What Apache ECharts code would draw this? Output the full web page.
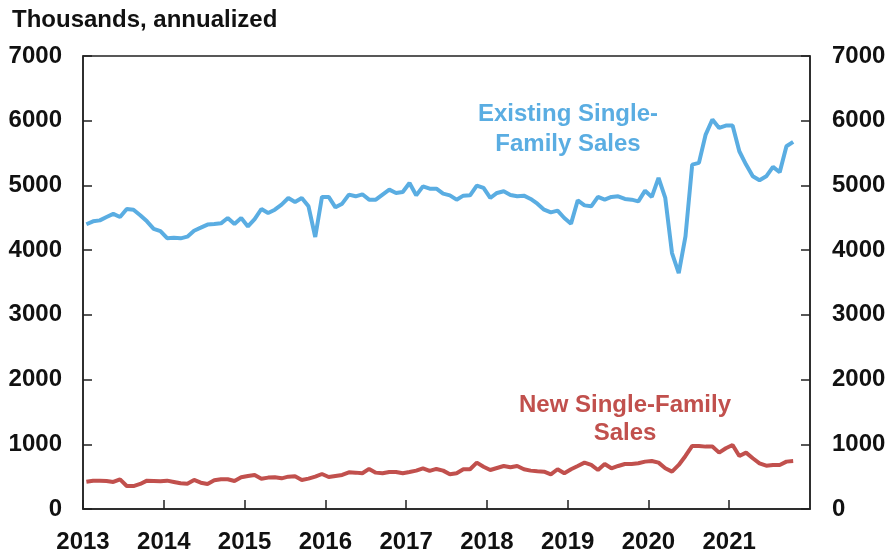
<!DOCTYPE html>
<html>
<head>
<meta charset="utf-8">
<script src="https://cdn.jsdelivr.net/npm/echarts@6/dist/echarts.min.js"></script>
<style>
  html, body { margin: 0; padding: 0; background: #fff; }
  #chart { width: 890px; height: 555px; }
</style>
</head>
<body>
<div id="chart"></div>
<script>
// monthly, Jan 2013 .. Oct 2021
const startYear = 2013;
const yearTicks = [2013, 2014, 2015, 2016, 2017, 2018, 2019, 2020, 2021];
const valueTicks = [0, 1000, 2000, 3000, 4000, 5000, 6000, 7000];

const existingSales = [
  4400, 4445, 4460, 4512, 4560, 4512, 4636, 4625, 4540, 4445, 4330, 4295,
  4185, 4190, 4182, 4208, 4300, 4347, 4395, 4404, 4414, 4497, 4404, 4497,
  4367, 4480, 4636, 4574, 4625, 4703, 4806, 4744, 4806, 4677, 4203, 4822,
  4822, 4661, 4718, 4858, 4832, 4863, 4780, 4780, 4858, 4935, 4884, 4899,
  5038, 4847, 4986, 4950, 4950, 4873, 4847, 4780, 4842, 4847, 4997, 4961,
  4806, 4884, 4909, 4853, 4832, 4842, 4791, 4718, 4625, 4584, 4610, 4497,
  4409, 4770, 4692, 4677, 4822, 4780, 4822, 4832, 4791, 4780, 4754, 4919,
  4822, 5116, 4806, 3955, 3646, 4212, 5322, 5348, 5786, 6018, 5889, 5925,
  5925, 5528, 5322, 5141, 5079, 5141, 5286, 5203, 5605, 5672
];

const newSales = [
  422, 438, 438, 433, 418, 459, 356, 354, 387, 438, 433, 428,
  438, 418, 397, 392, 449, 407, 387, 443, 459, 459, 433, 490,
  511, 526, 469, 485, 490, 474, 500, 505, 449, 469, 500, 541,
  495, 511, 526, 567, 562, 552, 619, 562, 552, 572, 572, 552,
  572, 593, 629, 588, 619, 593, 536, 552, 614, 614, 717, 654,
  603, 634, 665, 645, 665, 614, 593, 583, 577, 536, 614, 552,
  614, 665, 717, 681, 603, 696, 629, 665, 696, 696, 706, 732,
  742, 717, 629, 577, 681, 820, 975, 975, 964, 964, 871, 939,
  990, 820, 871, 784, 706, 670, 681, 681, 732, 740
];

// x position of each month: middle of the month, in years
const monthX = existingSales.map((_, i) => startYear + (i + 0.5) / 12);

const blue = '#5aade2';
const red = '#c1504d';
const fontCss = 'bold 24px "Liberation Sans", Arial, sans-serif';
const labelFont = {
  color: '#111',
  fontSize: 24,
  fontWeight: 'bold',
  fontFamily: '"Liberation Sans", Arial, sans-serif'
};

const chart = echarts.init(document.getElementById('chart'));

const option = {
  animation: false,
  grid: {
    left: 83,
    right: 80,
    top: 56,
    bottom: 46,
    show: true,
    borderColor: '#222',
    borderWidth: 1.5
  },
  graphic: [
    {
      type: 'text', left: 12, top: 8,
      style: { text: 'Thousands, annualized', fill: '#111', font: fontCss }
    },
    {
      type: 'text', x: 568, y: 99,
      style: {
        text: 'Existing Single-\nFamily Sales', fill: blue, align: 'center',
        lineHeight: 30, font: fontCss
      }
    },
    {
      type: 'text', x: 625, y: 391,
      style: {
        text: 'New Single-Family\nSales', fill: red, align: 'center',
        lineHeight: 28, font: fontCss
      }
    }
  ],
  xAxis: {
    type: 'value',
    min: yearTicks[0],
    max: yearTicks[yearTicks.length - 1] + 1,
    interval: 1,
    axisLine: { lineStyle: { color: '#222', width: 1.5 } },
    axisTick: { inside: true, length: 9, lineStyle: { color: '#222', width: 1.5 } },
    splitLine: { show: false },
    axisLabel: Object.assign({}, labelFont, {
      margin: 21,
      showMaxLabel: false,
      formatter: v => String(v)
    })
  },
  yAxis: [
    {
      type: 'value', position: 'left',
      min: valueTicks[0], max: valueTicks[valueTicks.length - 1], interval: 1000,
      axisLine: { show: true, lineStyle: { color: '#222', width: 1.5 } },
      axisTick: { show: true, inside: true, length: 9, lineStyle: { color: '#222', width: 1.5 } },
      splitLine: { show: false },
      axisLabel: Object.assign({}, labelFont, { margin: 21, formatter: v => String(v) })
    },
    {
      type: 'value', position: 'right',
      min: valueTicks[0], max: valueTicks[valueTicks.length - 1], interval: 1000,
      axisLine: { show: true, lineStyle: { color: '#222', width: 1.5 } },
      axisTick: { show: true, inside: true, length: 9, lineStyle: { color: '#222', width: 1.5 } },
      splitLine: { show: false },
      axisLabel: Object.assign({}, labelFont, { margin: 22, formatter: v => String(v) })
    }
  ],
  series: [
    {
      name: 'Existing Single-Family Sales',
      type: 'line',
      data: monthX.map((x, i) => [x, existingSales[i]]),
      showSymbol: false,
      lineStyle: { color: blue, width: 4 },
      itemStyle: { color: blue }
    },
    {
      name: 'New Single-Family Sales',
      type: 'line',
      data: monthX.map((x, i) => [x, newSales[i]]),
      showSymbol: false,
      lineStyle: { color: red, width: 4 },
      itemStyle: { color: red }
    }
  ]
};

chart.setOption(option);
</script>
</body>
</html>
